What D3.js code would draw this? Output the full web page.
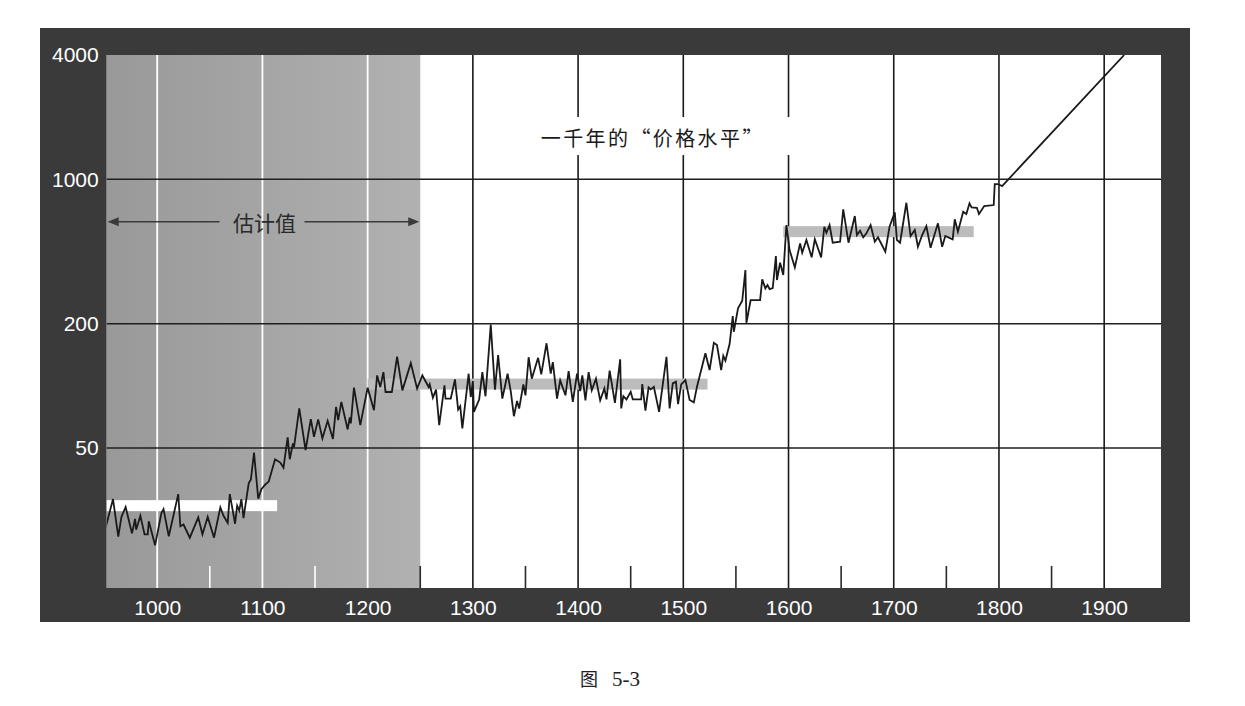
<!DOCTYPE html>
<html>
<head>
<meta charset="utf-8">
<script src="https://cdn.jsdelivr.net/npm/d3@7/dist/d3.min.js"></script>
<style>
  html, body { margin: 0; padding: 0; background: #ffffff; }
  svg { display: block; }
</style>
</head>
<body>
<svg id="chart" width="1245" height="706"></svg>
<script>
// ---------------- DATA ----------------
const years = [
  951, 958, 963, 966, 970, 976, 979, 980, 984, 988, 991, 992, 998, 1004, 1006, 1011, 1020, 1022, 1025, 1031,
  1039, 1043, 1048, 1054, 1060, 1063, 1067, 1069, 1074, 1076, 1078, 1080, 1082, 1087, 1089, 1092, 1096, 1099, 1103, 1106,
  1112, 1117, 1120, 1124, 1126, 1129, 1130, 1135, 1141, 1146, 1149, 1153, 1157, 1162, 1167, 1170, 1172, 1175, 1181, 1183,
  1184, 1187, 1193, 1200, 1206, 1209, 1212, 1215, 1217, 1223, 1228, 1233, 1241, 1247, 1252, 1258, 1259, 1262, 1265, 1268,
  1273, 1274, 1279, 1283, 1286, 1288, 1290, 1296, 1298, 1300, 1301, 1306, 1309, 1312, 1317, 1321, 1324, 1328, 1333, 1336,
  1339, 1342, 1344, 1348, 1350, 1353, 1356, 1362, 1365, 1370, 1374, 1376, 1380, 1383, 1388, 1391, 1395, 1399, 1402, 1404,
  1407, 1410, 1413, 1417, 1421, 1425, 1427, 1430, 1435, 1440, 1441, 1443, 1446, 1450, 1452, 1460, 1461, 1464, 1467, 1469,
  1472, 1477, 1484, 1487, 1490, 1493, 1495, 1498, 1502, 1506, 1510, 1513, 1521, 1525, 1529, 1532, 1536, 1538, 1540, 1544,
  1547, 1548, 1552, 1556, 1559, 1560, 1564, 1573, 1575, 1578, 1580, 1582, 1585, 1588, 1589, 1592, 1595, 1598, 1601, 1606,
  1611, 1613, 1617, 1622, 1625, 1631, 1634, 1636, 1639, 1642, 1649, 1652, 1657, 1663, 1665, 1668, 1671, 1674, 1678, 1682,
  1685, 1692, 1696, 1701, 1703, 1706, 1712, 1716, 1720, 1723, 1727, 1731, 1735, 1742, 1746, 1749, 1756, 1758, 1761, 1766,
  1769, 1772, 1774, 1779, 1781, 1786, 1795, 1796, 1799, 1803, 1919
];
const prices = [
  20.6, 28.3, 18.6, 23.2, 25.9, 19.3, 22.7, 20.1, 23.5, 19.1, 19.1, 22.1, 16.9, 24.2, 25.3, 18.7, 29.9, 20.9, 21.3, 18.4,
  23.1, 19.1, 23.2, 18.4, 25.8, 23.5, 21.7, 29.9, 21.5, 26.3, 24.9, 28.3, 22.9, 33.8, 35.1, 47.5, 28.4, 31.6, 33.4, 34.4,
  44.1, 42.5, 40.2, 56.3, 44.1, 52.7, 50.4, 77.7, 48.9, 69.0, 56.7, 68.8, 55.7, 67.7, 55.3, 79.1, 68.2, 83.6, 61.5, 70.3,
  65.8, 98.0, 64.5, 98.0, 76.2, 112.3, 98.7, 116.5, 93.4, 93.4, 138.7, 95.1, 128.8, 97.0, 112.3, 98.7, 101.7, 87.7, 95.9, 64.5,
  100.6, 86.8, 86.8, 107.5, 76.8, 79.7, 62.2, 114.5, 88.3, 105.5, 74.8, 85.8, 116.5, 89.0, 197.8, 95.9, 141.0, 86.8, 114.5, 94.4,
  71.3, 84.5, 77.7, 101.7, 90.0, 137.6, 108.3, 136.7, 113.6, 160.8, 114.5, 130.2, 86.8, 106.3, 90.0, 117.8, 83.6, 114.5, 94.4, 112.3,
  85.1, 116.5, 95.1, 108.3, 85.1, 97.2, 86.0, 118.4, 82.8, 134.4, 77.8, 89.2, 86.0, 93.6, 86.0, 86.0, 102.0, 75.8, 98.4, 96.2,
  99.0, 74.9, 138.3, 77.8, 102.8, 104.7, 81.6, 101.7, 106.7, 85.4, 83.2, 99.0, 143.7, 119.3, 161.7, 157.6, 119.3, 139.9, 132.3, 159.4,
  217.8, 182.8, 237.3, 258.3, 363.8, 202.1, 260.3, 260.3, 328.0, 296.6, 307.7, 294.3, 297.6, 425.2, 325.4, 394.7, 344.1, 600.7, 454.6, 374.9,
  489.9, 441.2, 508.3, 419.1, 512.3, 419.1, 589.5, 551.4, 600.7, 493.2, 498.7, 715.5, 493.2, 664.2, 537.4, 563.8, 523.8, 547.7, 600.7, 498.7,
  523.8, 446.1, 589.5, 692.0, 508.3, 493.2, 770.2, 531.4, 568.2, 471.6, 537.4, 594.1, 466.4, 612.2, 471.6, 531.4, 512.3, 640.2, 557.6, 696.7,
  679.2, 765.1, 731.7, 728.5, 679.2, 742.4, 750.8, 949, 949, 928, 4000
];
const xTickYears = [1000, 1100, 1200, 1300, 1400, 1500, 1600, 1700, 1800, 1900];
const minorTickYears = [1050, 1150, 1250, 1350, 1450, 1550, 1650, 1750, 1850];
const yTickValues = [50, 200, 1000, 4000];
const barStart = [952, 1200, 1595];
const barEnd = [1114, 1523, 1776];
const barValue = [26.3, 102, 558];
const estimateRange = [952, 1250];
const estimateLevel = 623;
const titleText = "一千年的“价格水平”";
const estimateText = "估计值";
const captionFig = "图";
const captionNum = "5-3";

// ---------------- LAYOUT ----------------
const svg = d3.select("#chart");
const frame = { x: 40, y: 28, w: 1150, h: 594 };
const plot = { left: 106.7, right: 1161, top: 55, bottom: 588 };

const x = d3.scaleLinear().domain([952, 1954]).range([plot.left, plot.right]);
const y = d3.scaleLog().domain([10.5, 4000]).range([plot.bottom, plot.top]);

const defs = svg.append("defs");
const grad = defs.append("linearGradient").attr("id", "shade").attr("x1", "0").attr("x2", "1").attr("y1", "0").attr("y2", "0");
grad.append("stop").attr("offset", "0%").attr("stop-color", "#999999");
grad.append("stop").attr("offset", "100%").attr("stop-color", "#b1b1b1");
defs.append("clipPath").attr("id", "plotclip").append("rect")
  .attr("x", plot.left).attr("y", plot.top)
  .attr("width", plot.right - plot.left).attr("height", plot.bottom - plot.top);

// frame
svg.append("rect").attr("x", frame.x).attr("y", frame.y).attr("width", frame.w).attr("height", frame.h).attr("fill", "#3a3a3a");
// plot background
svg.append("rect").attr("x", plot.left).attr("y", plot.top)
  .attr("width", plot.right - plot.left).attr("height", plot.bottom - plot.top).attr("fill", "#ffffff");
// shaded estimate region
svg.append("rect").attr("x", x(estimateRange[0])).attr("y", plot.top)
  .attr("width", x(estimateRange[1]) - x(estimateRange[0])).attr("height", plot.bottom - plot.top)
  .attr("fill", "url(#shade)");

// vertical grid
svg.append("g").selectAll("line").data(xTickYears).join("line")
  .attr("x1", d => x(d)).attr("x2", d => x(d))
  .attr("y1", plot.top).attr("y2", plot.bottom)
  .attr("stroke", d => d < estimateRange[1] ? "#ffffff" : "#1a1a1a")
  .attr("stroke-width", d => d < estimateRange[1] ? 1.8 : 1.6);

// minor ticks at bottom
svg.append("g").selectAll("line").data(minorTickYears).join("line")
  .attr("x1", d => x(d)).attr("x2", d => x(d))
  .attr("y1", plot.bottom - 22).attr("y2", plot.bottom)
  .attr("stroke", d => d < estimateRange[1] - 1 ? "#ffffff" : "#2a2a2a")
  .attr("stroke-width", 1.6);

// horizontal grid
svg.append("g").selectAll("line").data(yTickValues.filter(v => v < 4000)).join("line")
  .attr("x1", plot.left).attr("x2", plot.right)
  .attr("y1", d => y(d)).attr("y2", d => y(d))
  .attr("stroke", "#1f1f1f").attr("stroke-width", 1.5);

// title box (breaks grid lines) and title
const titleX = x(1471), titleY = y(1600);
svg.append("rect").attr("x", x(1355)).attr("y", y(2003))
  .attr("width", x(1607) - x(1355)).attr("height", y(1311) - y(2003)).attr("fill", "#ffffff");
svg.append("text").attr("x", titleX).attr("y", titleY)
  .attr("text-anchor", "middle").attr("dominant-baseline", "central")
  .attr("font-family", "'Noto Sans CJK SC', 'Noto Sans', sans-serif")
  .attr("font-size", 20).attr("letter-spacing", 2.4).attr("fill", "#1a1a1a")
  .text(titleText);

// mean level bars
const barColors = ["#ffffff", "#bcbcbc", "#bcbcbc"];
svg.append("g").selectAll("rect").data(barValue).join("rect")
  .attr("x", (d, i) => x(barStart[i]))
  .attr("width", (d, i) => x(barEnd[i]) - x(barStart[i]))
  .attr("y", d => y(d) - 5.5).attr("height", 11)
  .attr("fill", (d, i) => barColors[i]);

// price line
const pts = years.map((yr, i) => [yr, prices[i]]);
svg.append("path").datum(pts)
  .attr("clip-path", "url(#plotclip)")
  .attr("d", d3.line().x(d => x(d[0])).y(d => y(d[1])))
  .attr("fill", "none").attr("stroke", "#1a1a1a").attr("stroke-width", 1.8)
  .attr("stroke-linejoin", "miter");

// estimate annotation arrow
const ay = y(estimateLevel);
const ax0 = x(estimateRange[0]) + 1, ax1 = x(estimateRange[1]) - 1;
const amid = x(1102);
const ag = svg.append("g").attr("fill", "#3a3a3a").attr("stroke", "#3a3a3a");
ag.append("line").attr("x1", ax0 + 8).attr("x2", amid - 45).attr("y1", ay).attr("y2", ay).attr("stroke-width", 1.6);
ag.append("line").attr("x1", amid + 40).attr("x2", ax1 - 8).attr("y1", ay).attr("y2", ay).attr("stroke-width", 1.6);
ag.append("path").attr("stroke", "none")
  .attr("d", `M${ax0},${ay} L${ax0 + 11},${ay - 4.5} L${ax0 + 11},${ay + 4.5} Z`);
ag.append("path").attr("stroke", "none")
  .attr("d", `M${ax1},${ay} L${ax1 - 11},${ay - 4.5} L${ax1 - 11},${ay + 4.5} Z`);
svg.append("text").attr("x", amid).attr("y", ay)
  .attr("text-anchor", "middle").attr("dominant-baseline", "central")
  .attr("font-family", "'Noto Sans CJK SC', sans-serif")
  .attr("font-size", 21).attr("fill", "#2a2a2a")
  .text(estimateText);

// axes (labels only, white on dark frame)
const yAxis = d3.axisLeft(y).tickValues(yTickValues).tickFormat(d3.format("d")).tickSize(0).tickPadding(8);
const gy = svg.append("g").attr("transform", `translate(${plot.left},0)`).call(yAxis);
const xAxis = d3.axisBottom(x).tickValues(xTickYears).tickFormat(d3.format("d")).tickSize(0).tickPadding(12);
const gx = svg.append("g").attr("transform", `translate(0,${plot.bottom})`).call(xAxis);
[gx, gy].forEach(g => {
  g.select(".domain").remove();
  g.selectAll("text").attr("fill", "#ffffff")
    .attr("font-family", "'Liberation Sans', Arial, sans-serif").attr("font-size", 21);
});

// caption
svg.append("text").attr("x", 589).attr("y", 686).attr("text-anchor", "middle")
  .attr("font-family", "'Noto Sans CJK SC', serif").attr("font-size", 18).attr("fill", "#222")
  .text(captionFig);
svg.append("text").attr("x", 626).attr("y", 686).attr("text-anchor", "middle")
  .attr("font-family", "'Liberation Serif', 'Times New Roman', serif").attr("font-size", 21).attr("fill", "#222")
  .text(captionNum);
</script>
</body>
</html>
